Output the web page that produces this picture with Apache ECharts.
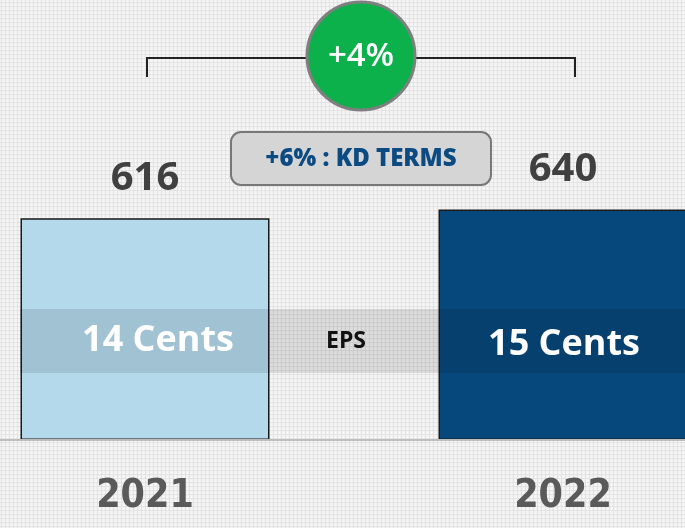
<!DOCTYPE html>
<html>
<head>
<meta charset="utf-8">
<script src="https://cdn.jsdelivr.net/npm/echarts@6/dist/echarts.min.js"></script>
<style>
  html, body { margin: 0; padding: 0; background: #eeeeee; overflow: hidden; }
  #wrap { position: relative; width: 685px; height: 528px; overflow: hidden; }
  /* chart is wider than the window so the 2022 bar runs off the right edge */
  #chart { position: absolute; left: -64px; top: 0; width: 836px; height: 528px; }
</style>
</head>
<body>
<div id="wrap"><div id="chart"></div></div>
<script>
// data
const years = ["2021", "2022"];
const revenue = [616, 640];
const epsCents = [14, 15];
const barColors = ["#b4d9ea", "#07487c"];
const growthLabel = "+4%";
const kdLabel = "+6% : KD TERMS";
const bandLabel = "EPS";

const myChart = echarts.init(document.getElementById("chart"));

// shift between the window and the wider chart canvas
const dx = 64;
// middle of the grey EPS band, in axis units
const bandMid = 275;

// small linen-like tile for the background
function linenTile() {
  const c = document.createElement("canvas");
  c.width = 4;
  c.height = 4;
  const ctx = c.getContext("2d");
  ctx.fillStyle = "#f4f4f4";
  ctx.fillRect(0, 0, 4, 4);
  ctx.fillStyle = "#e3e3e3";
  ctx.fillRect(1, 0, 1, 4);
  ctx.fillRect(0, 2, 4, 1);
  ctx.fillStyle = "#fbfbfb";
  ctx.fillRect(3, 1, 1, 1);
  return c;
}

myChart.setOption({
  backgroundColor: { image: linenTile(), repeat: "repeat" },
  animation: false,
  grid: {
    left: 0,
    right: 0,
    top: 80,
    bottom: 88,
  },
  xAxis: {
    type: "category",
    data: years,
    z: 5,
    axisLine: {
      lineStyle: {
        color: "#bdbdbd",
        width: 2,
      },
    },
    axisTick: { show: false },
    axisLabel: {
      margin: 37,
      fontSize: 39,
      fontWeight: "bold",
      fontFamily: "'Liberation Sans Narrow', 'DejaVu Sans Condensed', Roboto",
      color: "#5a5a5a",
    },
  },
  yAxis: {
    type: "value",
    min: 0,
    max: 1000,
    show: false,
    splitLine: { show: false },
  },
  graphic: [
    // grey EPS band across the bars
    {
      type: "rect",
      z: 3,
      shape: { x: 20 + dx, y: 309, width: 665, height: 64 },
      style: { fill: "rgba(0,0,0,0.1)" },
    },
    {
      type: "text",
      z: 4,
      style: {
        x: 346 + dx,
        y: 341,
        text: bandLabel,
        align: "center",
        verticalAlign: "middle",
        font: "bold 23px 'Open Sans'",
        fill: "#111",
      },
    },
    // bracket
    {
      type: "polyline",
      z: 100,
      shape: { points: [[147 + dx, 77], [147 + dx, 58], [575 + dx, 58], [575 + dx, 77]] },
      style: { stroke: "#222", lineWidth: 2, fill: null },
    },
    {
      type: "circle",
      z: 101,
      shape: { cx: 361 + dx, cy: 56, r: 54 },
      style: { fill: "#0db14b", stroke: "#7f7f7f", lineWidth: 3 },
    },
    {
      type: "text",
      z: 102,
      style: {
        x: 361 + dx,
        y: 57,
        text: growthLabel,
        align: "center",
        verticalAlign: "middle",
        font: "600 33px 'Open Sans'",
        fill: "#fff",
      },
    },
    // KD terms box
    {
      type: "rect",
      z: 100,
      shape: { x: 231 + dx, y: 132, width: 260, height: 53, r: 10 },
      style: { fill: "#d5d5d5", stroke: "#777", lineWidth: 2 },
    },
    {
      type: "text",
      z: 101,
      style: {
        x: 361 + dx,
        y: 159,
        text: kdLabel,
        align: "center",
        verticalAlign: "middle",
        font: "800 24px 'Open Sans'",
        fill: "#0c4a82",
      },
    },
  ],
  series: [
    {
      type: "bar",
      barWidth: 249,
      data: revenue.map((v, i) => ({
        value: v,
        itemStyle: { color: barColors[i] },
      })),
      itemStyle: {
        borderColor: "#1a1a1a",
        borderWidth: 1.5,
      },
      label: {
        show: true,
        position: "top",
        distance: 20,
        fontSize: 40,
        fontWeight: "bold",
        fontFamily: "Open Sans",
        color: "#404040",
      },
    },
    {
      type: "scatter",
      symbolSize: 0,
      z: 10,
      itemStyle: { opacity: 1 },
      data: epsCents.map((c, i) => ({
        value: [years[i], bandMid],
        label: { offset: i === 0 ? [13, 0] : [1, 4] },
      })),
      label: {
        show: true,
        position: "inside",
        formatter: (p) => epsCents[p.dataIndex] + " Cents",
        fontSize: 36,
        fontWeight: "bold",
        fontFamily: "Open Sans",
        color: "#ffffff",
      },
    },
  ],
});
</script>
</body>
</html>
